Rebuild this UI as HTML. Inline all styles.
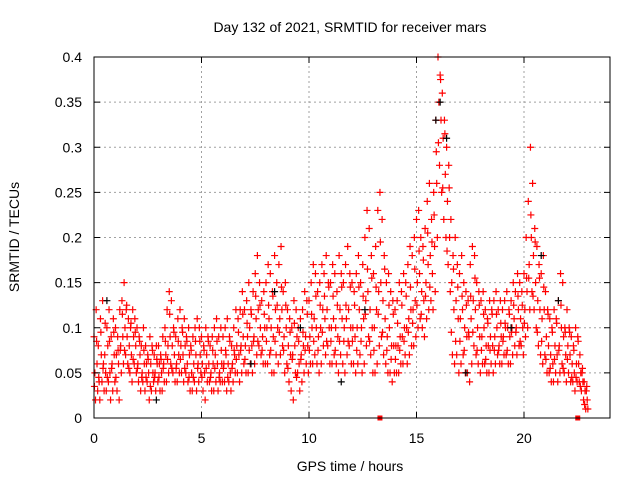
<!DOCTYPE html>
<html><head><meta charset="utf-8"><style>
body{margin:0;background:#fff}
svg{display:block;font-family:"Liberation Sans",sans-serif}
</style></head><body>
<svg id="chart" width="640" height="480">
<text x="350" y="32" text-anchor="middle" font-size="14">Day 132 of 2021, SRMTID for receiver mars</text>
<text x="350" y="471" text-anchor="middle" font-size="14">GPS time / hours</text>
<text transform="translate(19,237) rotate(-90)" text-anchor="middle" font-size="14">SRMTID / TECUs</text>
<g id="grid"></g><g id="marks"></g><g id="axes"></g>
</svg>
<script>
const xTicks=[0,5,10,15,20];
const yTicks=[0,0.05,0.1,0.15,0.2,0.25,0.3,0.35,0.4];
const yTickLabels=["0","0.05","0.1","0.15","0.2","0.25","0.3","0.35","0.4"];
const hiVals=[.09,.12,.08,.11,.13,.07,.10,.12,.09,.11,.10,.09,.12,.13,.15,.12,.11,.10,.12,.11,.10,.09,.08,.10,.08,.07,.09,.08,.07,.08,.08,.07,.09,.10,.12,.14,.13,.10,.09,.11,.12,.10,.11,.09,.10,.08,.09,.10,.11,.10,.09,.08,.10,.09,.08,.09,.10,.11,.09,.10,.09,.10,.11,.09,.08,.10,.12,.11,.12,.14,.12,.13,.15,.12,.14,.16,.18,.15,.13,.14,.15,.17,.16,.14,.18,.15,.17,.19,.14,.15,.12,.11,.10,.13,.12,.10,.11,.12,.14,.13,.13,.15,.17,.16,.14,.15,.17,.16,.18,.15,.15,.17,.16,.14,.18,.16,.15,.17,.19,.16,.15,.14,.16,.18,.15,.17,.20,.23,.21,.18,.16,.19,.23,.25,.22,.18,.15,.16,.14,.13,.12,.13,.15,.14,.16,.15,.17,.19,.18,.20,.22,.23,.20,.19,.21,.24,.26,.22,.25,.33,.40,.38,.36,.33,.30,.28,.22,.18,.20,.17,.16,.18,.15,.14,.13,.17,.19,.18,.15,.14,.13,.14,.12,.11,.13,.12,.13,.14,.12,.13,.12,.13,.14,.12,.13,.15,.14,.16,.15,.14,.16,.20,.24,.30,.26,.21,.19,.17,.16,.18,.14,.12,.11,.10,.12,.11,.13,.16,.15,.10,.12,.10,.09,.08,.10,.09,.07,.05,.04,.03];
const midVals=[.05,.06,.04,.07,.06,.05,.08,.05,.06,.07,.07,.06,.08,.09,.10,.09,.08,.07,.09,.08,.06,.07,.05,.06,.06,.05,.06,.05,.05,.06,.06,.05,.06,.07,.08,.09,.08,.07,.06,.07,.08,.07,.08,.06,.07,.05,.06,.07,.06,.07,.06,.05,.07,.06,.05,.06,.07,.06,.05,.06,.06,.07,.06,.05,.06,.07,.08,.07,.08,.09,.08,.09,.10,.08,.09,.11,.12,.10,.09,.10,.10,.11,.10,.09,.12,.10,.11,.12,.09,.10,.08,.07,.07,.08,.09,.06,.07,.08,.09,.08,.09,.10,.11,.10,.09,.10,.12,.11,.12,.10,.10,.11,.10,.09,.12,.11,.10,.11,.12,.10,.10,.09,.10,.12,.10,.11,.13,.14,.12,.10,.10,.12,.14,.15,.13,.11,.09,.10,.08,.08,.08,.08,.09,.09,.10,.10,.11,.12,.12,.13,.15,.16,.14,.13,.15,.17,.18,.16,.19,.26,.35,.33,.31,.27,.24,.20,.15,.12,.13,.11,.11,.12,.10,.09,.09,.11,.13,.12,.10,.09,.09,.10,.08,.08,.09,.08,.09,.10,.08,.09,.09,.10,.10,.09,.10,.11,.10,.12,.11,.10,.12,.14,.17,.20,.18,.15,.13,.12,.11,.12,.09,.08,.07,.06,.08,.07,.08,.10,.09,.07,.08,.07,.06,.05,.06,.06,.05,.04,.03,.02];
const loVals=[.02,.03,.02,.04,.03,.03,.04,.02,.03,.04,.03,.02,.05,.06,.07,.06,.05,.04,.06,.05,.04,.03,.04,.03,.04,.02,.03,.04,.03,.04,.03,.03,.04,.04,.05,.06,.05,.04,.04,.05,.05,.04,.05,.04,.03,.03,.04,.03,.04,.05,.03,.02,.04,.04,.03,.03,.04,.03,.04,.04,.04,.03,.04,.03,.04,.05,.05,.04,.05,.06,.05,.05,.06,.05,.06,.07,.08,.07,.06,.06,.06,.07,.05,.05,.07,.06,.07,.08,.05,.06,.04,.03,.02,.05,.05,.03,.04,.05,.06,.05,.06,.06,.07,.06,.05,.06,.08,.07,.08,.06,.06,.07,.06,.05,.07,.06,.05,.07,.08,.06,.06,.05,.06,.07,.05,.06,.08,.09,.07,.05,.05,.06,.08,.09,.07,.06,.05,.05,.04,.05,.05,.05,.06,.06,.07,.06,.07,.08,.08,.09,.10,.11,.10,.09,.11,.12,.13,.12,.14,.20,.28,.25,.22,.20,.17,.14,.07,.06,.07,.05,.06,.07,.05,.05,.04,.06,.08,.07,.06,.05,.06,.06,.05,.05,.06,.05,.06,.07,.06,.06,.07,.07,.06,.06,.07,.08,.07,.08,.08,.07,.09,.10,.12,.14,.12,.10,.08,.07,.06,.07,.05,.05,.04,.04,.05,.04,.05,.06,.05,.04,.05,.04,.04,.03,.04,.04,.03,.02,.01,.01];
const q3Vals=[.085,.095,.105,.085,.095,.075,.115,.125,.105,.095,.085,.075,.065,.075,.065,.065,.085,.115,.095,.085,.095,.085,.075,.085,.085,.075,.085,.075,.085,.075,.075,.085,.075,.095,.115,.105,.115,.135,.125,.115,.125,.135,.125,.145,.125,.095,.105,.085,.095,.115,.115,.135,.125,.135,.145,.135,.125,.145,.125,.145,.125,.145,.135,.165,.155,.145,.195,.165,.125,.115,.105,.125,.135,.145,.165,.185,.175,.205,.195,.295,.375,.315,.255,.165,.145,.135,.125,.135,.155,.125,.115,.105,.115,.115,.105,.105,.115,.125,.135,.125,.155,.225,.195,.155,.145,.115,.095,.105,.125,.095,.095,.075,.085,.055,.035];
const q1Vals=[.035,.045,.055,.045,.055,.045,.075,.075,.055,.065,.055,.045,.045,.035,.045,.045,.055,.065,.055,.055,.065,.055,.045,.045,.055,.045,.055,.045,.055,.045,.055,.045,.055,.065,.075,.065,.075,.085,.085,.075,.085,.075,.085,.095,.075,.055,.065,.045,.065,.075,.075,.085,.075,.095,.085,.085,.075,.085,.085,.085,.085,.075,.085,.115,.085,.075,.115,.095,.075,.065,.065,.075,.085,.095,.105,.125,.115,.135,.145,.225,.305,.255,.185,.095,.085,.085,.075,.095,.095,.075,.075,.065,.075,.075,.075,.085,.075,.095,.095,.085,.105,.155,.135,.095,.085,.065,.055,.065,.075,.055,.065,.045,.045,.035,.015];
const blackTimes=[0.6,2.9,7.3,8.4,9.6,11.5,12.6,15.9,16.1,16.4,17.3,19.4,20.8,21.6];
const blackVals=[0.13,0.02,0.06,0.14,0.1,0.04,0.12,0.33,0.35,0.31,0.05,0.1,0.18,0.13];
const markerTimes=[13.3,22.5];

const X0=94,X1=610,Y0=418,Y1=57;
const sx=t=>X0+t*(X1-X0)/24;
const sy=v=>Y0-v*(Y0-Y1)/0.4;
const NS="http://www.w3.org/2000/svg";
function mk(tag,attrs,parent){const e=document.createElementNS(NS,tag);for(const k in attrs)e.setAttribute(k,attrs[k]);parent.appendChild(e);return e;}
const grid=document.getElementById('grid'),marks=document.getElementById('marks'),axes=document.getElementById('axes');
xTicks.forEach(t=>{const x=sx(t);
 if(t>0){const g=mk('line',{x1:x,x2:x,y1:Y0,y2:Y1,stroke:'#a0a0a0','stroke-dasharray':'2,3'},grid);
 
 }
 const tl=mk('text',{x:x,y:Y0+25,'text-anchor':'middle','font-size':14},axes);tl.textContent=t;
 
 
 mk('line',{x1:x,x2:x,y1:Y0,y2:Y0-6,stroke:'#000'},axes);mk('line',{x1:x,x2:x,y1:Y1,y2:Y1+6,stroke:'#000'},axes);});
yTicks.forEach((v,i)=>{const y=sy(v);
 if(i>0&&i<yTicks.length-1){const g=mk('line',{x1:X0,x2:X1,y1:y,y2:y,stroke:'#a0a0a0','stroke-dasharray':'2,3'},grid);
 
 }
 const tl=mk('text',{x:X0-12,y:y+5,'text-anchor':'end','font-size':14},axes);tl.textContent=yTickLabels[i];
 
 
 mk('line',{x1:X0,x2:X0+6,y1:y,y2:y,stroke:'#000'},axes);mk('line',{x1:X1,x2:X1-6,y1:y,y2:y,stroke:'#000'},axes);});
const fr=mk('rect',{x:X0,y:Y1,width:X1-X0,height:Y0-Y1,fill:'none',stroke:'#000'},axes);


function plus(t,v,col,name){const x=sx(t),y=sy(v);
 const p=mk('path',{d:`M${x-3.5},${y}h7M${x},${y-3.5}v7`,stroke:col,'stroke-width':1.2},marks);
 
 }
hiVals.forEach((v,i)=>plus(i*0.1,v,'#f00','srmtid-point'));
midVals.forEach((v,i)=>plus(i*0.1+0.04,v,'#f00','srmtid-point'));
loVals.forEach((v,i)=>plus(i*0.1+0.07,v,'#f00','srmtid-point'));
q3Vals.forEach((v,i)=>plus(i*0.2+0.12,v,'#f00','srmtid-point'));
q1Vals.forEach((v,i)=>plus(i*0.2+0.02,v,'#f00','srmtid-point'));
blackTimes.forEach((t,i)=>plus(t,blackVals[i],'#000','black-point'));
markerTimes.forEach(t=>{const r=mk('rect',{x:sx(t)-2.5,y:Y0-2.5,width:5,height:5,fill:'#f00'},marks);
 
 });
</script>
</body></html>
